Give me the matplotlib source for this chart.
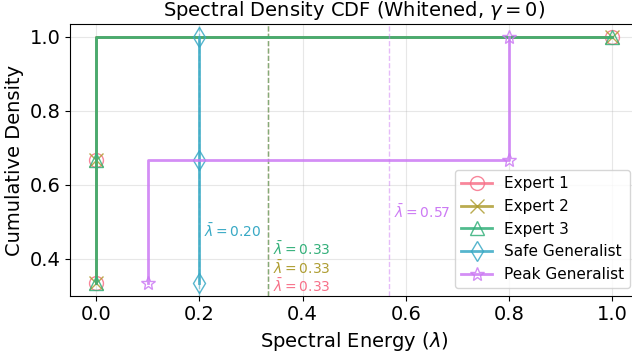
import numpy as np
import matplotlib
matplotlib.use("Agg")
import matplotlib.pyplot as plt
import seaborn as sns

names = ["Expert 1", "Expert 2", "Expert 3", "Safe Generalist", "Peak Generalist"]
eigenvalues = [
    [0.0, 0.0, 1.0],
    [0.0, 0.0, 1.0],
    [0.0, 0.0, 1.0],
    [0.2, 0.2, 0.2],
    [0.1, 0.8, 0.8],
]
markers = ["o", "x", "^", "d", "*"]
colors = sns.color_palette("husl", 5)

fig = plt.figure(figsize=(6.32, 3.54), dpi=100)
W, H = 632, 354
ax = fig.add_axes([70.3 / W, 1 - 295.7 / H, (638 - 70.3) / W, (295.7 - 24.4) / H])

for i, (name, ev, m, c) in enumerate(zip(names, eigenvalues, markers, colors)):
    x = np.sort(np.array(ev))
    y = np.arange(1, len(x) + 1) / len(x)
    ax.step(x, y, where="pre", color=c, lw=2, alpha=0.85, marker=m,
            markersize=10, markerfacecolor="none", markeredgewidth=1.0,
            label=name)
    mean = x.mean()
    ax.axvline(mean, color=c, ls="--", lw=1, alpha=0.5)
    ax.text(mean + 0.01, 0.325 + 0.05 * i, rf"$\bar{{\lambda}} = {mean:.2f}$",
            color=c, fontsize=10, va="center", ha="left")

ax.set_xlim(-0.05, 1.05)
ax.set_title(r"Spectral Density CDF (Whitened, $\gamma = 0$)", fontsize=14)
ax.set_xlabel(r"Spectral Energy ($\lambda$)", fontsize=14)
ax.set_ylabel("Cumulative Density", fontsize=14)
ax.tick_params(labelsize=14)
ax.grid(True, alpha=0.3)
ax.legend(loc="lower right", fontsize=11)

fig.savefig("out.png", dpi=100)
